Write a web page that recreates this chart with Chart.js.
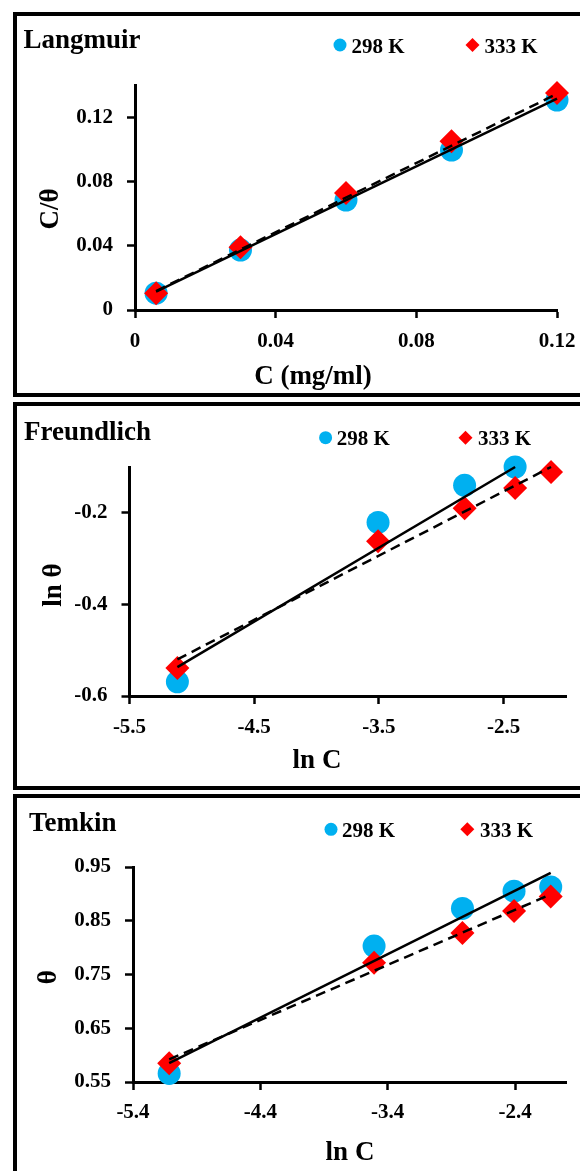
<!DOCTYPE html>
<html>
<head>
<meta charset="utf-8">
<script src="https://cdn.jsdelivr.net/npm/chart.js@4.4.1/dist/chart.umd.min.js"></script>
<style>
  html, body { margin: 0; padding: 0; background: #fff; width: 580px; height: 1171px; overflow: hidden; }
  .panel { position: absolute; left: 13px; width: 620px; box-sizing: border-box; border: 4px solid #000; }
  canvas { position: absolute; left: 0; }
</style>
</head>
<body>
<div class="panel" style="top:12px;height:385px"></div>
<div class="panel" style="top:402px;height:388px"></div>
<div class="panel" style="top:794px;height:400px"></div>
<canvas id="langmuir" width="580" height="400" style="top:0"></canvas>
<canvas id="freundlich" width="580" height="392" style="top:400px"></canvas>
<canvas id="temkin" width="580" height="379" style="top:792px"></canvas>
<script>
const FONT = 'Liberation Serif';
const BLUE = '#00B0F0';
const RED = '#FF0000';

const seriesLabels = ['298 K', '333 K'];

// concentration C (mg/ml) and ln C
const concC = [0.006, 0.03, 0.06, 0.09, 0.12];
const lnC = [-5.116, -3.507, -2.813, -2.408, -2.120];

// Langmuir: C/theta
const langmuir298 = [0.0105, 0.0373, 0.0684, 0.0995, 0.1306];
const langmuir333 = [0.0105, 0.0390, 0.0728, 0.1050, 0.1350];
const langmuirFitX = [0.006, 0.12];
const langmuirFit298 = [0.0115, 0.1315];
const langmuirFit333 = [0.0118, 0.1345];
const langmuirXTicks = [0, 0.04, 0.08, 0.12];
const langmuirXLabels = ['0', '0.04', '0.08', '0.12'];
const langmuirYTicks = [0, 0.04, 0.08, 0.12];
const langmuirYLabels = ['0', '0.04', '0.08', '0.12'];

// Freundlich: ln theta (fifth 298 K point lies above the axis range)
const freundlich298 = [-0.569, -0.221, -0.140, -0.100];
const freundlich333 = [-0.539, -0.262, -0.190, -0.146, -0.111];
const freundlichFitX298 = [-5.116, -2.408];
const freundlichFit298 = [-0.537, -0.100];
const freundlichFitX333 = [-5.116, -2.120];
const freundlichFit333 = [-0.520, -0.100];
const freundlichXTicks = [-5.5, -4.5, -3.5, -2.5];
const freundlichXLabels = ['-5.5', '-4.5', '-3.5', '-2.5'];
const freundlichYTicks = [-0.6, -0.4, -0.2];
const freundlichYLabels = ['-0.6', '-0.4', '-0.2'];

// Temkin: theta
const temkin298 = [0.566, 0.803, 0.873, 0.905, 0.913];
const temkin333 = [0.585, 0.772, 0.827, 0.868, 0.895];
const temkinFitX = [-5.116, -2.120];
const temkinFit298 = [0.585, 0.939];
const temkinFit333 = [0.592, 0.899];
const temkinXTicks = [-5.4, -4.4, -3.4, -2.4];
const temkinXLabels = ['-5.4', '-4.4', '-3.4', '-2.4'];
const temkinYTicks = [0.55, 0.65, 0.75, 0.85, 0.95];
const temkinYLabels = ['0.55', '0.65', '0.75', '0.85', '0.95'];

function pts(xs, ys) {
  return ys.map((y, i) => ({ x: xs[i], y: y }));
}

// panel title, legend and axis titles
const panelText = {
  id: 'panelText',
  afterDraw(chart, args, o) {
    const ctx = chart.ctx;
    ctx.save();
    ctx.fillStyle = '#000';
    ctx.textBaseline = 'alphabetic';

    ctx.font = `bold 27px "${FONT}"`;
    ctx.textAlign = 'left';
    ctx.fillText(o.title, o.titleX, o.titleY);

    // legend
    ctx.font = `bold 21px "${FONT}"`;
    ctx.fillStyle = BLUE;
    ctx.beginPath();
    ctx.arc(o.legendX[0], o.legendY, 6.5, 0, Math.PI * 2);
    ctx.fill();
    ctx.fillStyle = RED;
    ctx.beginPath();
    const dx = o.legendX[1], dy = o.legendY, r = 7;
    ctx.moveTo(dx - r, dy);
    ctx.lineTo(dx, dy - r);
    ctx.lineTo(dx + r, dy);
    ctx.lineTo(dx, dy + r);
    ctx.closePath();
    ctx.fill();
    ctx.fillStyle = '#000';
    ctx.fillText(seriesLabels[0], o.legendTextX[0], o.legendY + 7.5);
    ctx.fillText(seriesLabels[1], o.legendTextX[1], o.legendY + 7.5);

    // axis titles
    ctx.font = `bold 27px "${FONT}"`;
    ctx.textAlign = 'center';
    ctx.fillText(o.xTitle, o.xTitleX, o.xTitleY);
    ctx.translate(o.yTitleX, o.yTitleY);
    ctx.rotate(-Math.PI / 2);
    ctx.fillText(o.yTitle, 0, 0);
    ctx.restore();
  }
};
Chart.register(panelText);

function makeAxis(min, max, ticks, labels, opts) {
  return {
    type: 'linear',
    min: min,
    max: max,
    border: { display: true, color: '#000', width: 3 },
    grid: { display: true, drawOnChartArea: false, drawTicks: true, tickLength: 8, tickColor: '#000', tickWidth: 2.5, color: '#000' },
    ticks: {
      autoSkip: false,
      maxRotation: 0,
      padding: opts.padding,
      color: '#000',
      font: { family: FONT, weight: 'bold', size: 21 },
      callback: (v, i) => labels[i]
    },
    afterBuildTicks: (s) => { s.ticks = ticks.map(v => ({ value: v })); },
    afterFit: opts.afterFit
  };
}

function drawPanel(id, cfg) {
  const canvas = document.getElementById(id);
  const H = canvas.height;
  new Chart(canvas, {
    type: 'scatter',
    data: {
      datasets: [
        { label: 'fit 298', data: cfg.fit298, showLine: true, borderColor: '#000', borderWidth: 2.5, pointRadius: 0, clip: false, order: 0 },
        { label: 'fit 333', data: cfg.fit333, showLine: true, borderColor: '#000', borderWidth: 2.5, borderDash: [10, 6], pointRadius: 0, clip: false, order: 1 },
        { label: seriesLabels[1], data: cfg.s333, backgroundColor: RED, borderWidth: 0, pointStyle: 'rectRot', pointRadius: 12, clip: false, order: 2 },
        { label: seriesLabels[0], data: cfg.s298, backgroundColor: BLUE, borderWidth: 0, pointStyle: 'circle', pointRadius: 11.5, clip: false, order: 3 }
      ]
    },
    options: {
      responsive: false,
      animation: false,
      events: [],
      layout: {
        padding: { left: 0, top: cfg.top, right: 580 - cfg.right, bottom: H - cfg.bottom - 40 }
      },
      scales: {
        x: makeAxis(cfg.xMin, cfg.xMax, cfg.xTicks, cfg.xLabels, {
          padding: cfg.xPad,
          afterFit: (s) => { s.height = 40; s.paddingLeft = 0; s.paddingRight = 0; }
        }),
        y: makeAxis(cfg.yMin, cfg.yMax, cfg.yTicks, cfg.yLabels, {
          padding: 14,
          afterFit: (s) => { s.width = cfg.left; s.paddingTop = 0; s.paddingBottom = 0; }
        })
      },
      plugins: {
        legend: { display: false },
        tooltip: { enabled: false },
        panelText: cfg.text
      }
    }
  });
}

drawPanel('langmuir', {
  s298: pts(concC, langmuir298),
  s333: pts(concC, langmuir333),
  fit298: pts(langmuirFitX, langmuirFit298),
  fit333: pts(langmuirFitX, langmuirFit333),
  xMin: 0, xMax: 0.12, yMin: 0, yMax: 0.14,
  xTicks: langmuirXTicks, xLabels: langmuirXLabels,
  yTicks: langmuirYTicks, yLabels: langmuirYLabels,
  left: 135, right: 557, top: 85, bottom: 310, xPad: 11,
  text: {
    title: 'Langmuir', titleX: 23.5, titleY: 48,
    legendX: [340, 472.5], legendY: 45, legendTextX: [351.5, 484.5],
    xTitle: 'C (mg/ml)', xTitleX: 313, xTitleY: 383.5,
    yTitle: 'C/θ', yTitleX: 58, yTitleY: 209
  }
});

drawPanel('freundlich', {
  s298: pts(lnC, freundlich298),
  s333: pts(lnC, freundlich333),
  fit298: pts(freundlichFitX298, freundlichFit298),
  fit333: pts(freundlichFitX333, freundlichFit333),
  xMin: -5.5, xMax: -2.0, yMin: -0.6, yMax: -0.1,
  xTicks: freundlichXTicks, xLabels: freundlichXLabels,
  yTicks: freundlichYTicks, yLabels: freundlichYLabels,
  left: 129.5, right: 566, top: 67, bottom: 296, xPad: 11,
  text: {
    title: 'Freundlich', titleX: 24, titleY: 39.5,
    legendX: [325.6, 465.5], legendY: 37.7, legendTextX: [336.7, 478],
    xTitle: 'ln C', xTitleX: 317, xTitleY: 368,
    yTitle: 'ln θ', yTitleX: 61, yTitleY: 185
  }
});

drawPanel('temkin', {
  s298: pts(lnC, temkin298),
  s333: pts(lnC, temkin333),
  fit298: pts(temkinFitX, temkinFit298),
  fit333: pts(temkinFitX, temkinFit333),
  xMin: -5.4, xMax: -2.0, yMin: 0.55, yMax: 0.95,
  xTicks: temkinXTicks, xLabels: temkinXLabels,
  yTicks: temkinYTicks, yLabels: temkinYLabels,
  left: 133, right: 566, top: 75, bottom: 290, xPad: 10,
  text: {
    title: 'Temkin', titleX: 29, titleY: 38.7,
    legendX: [331, 467.3], legendY: 37.3, legendTextX: [342, 480],
    xTitle: 'ln C', xTitleX: 350, xTitleY: 368,
    yTitle: 'θ', yTitleX: 55.5, yTitleY: 185.3
  }
});
</script>
</body>
</html>
